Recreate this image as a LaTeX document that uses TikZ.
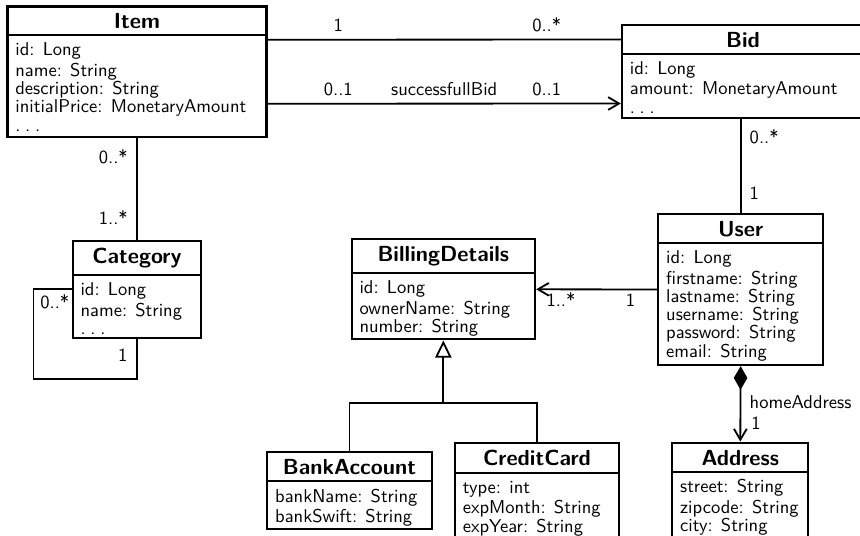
\documentclass[tikz,border=0pt]{standalone}
\usetikzlibrary{arrows.meta,fit,calc}
\renewcommand\familydefault{\sfdefault}

% one UML class: name, x1, y1 (top), x2, y of divider, y2 (bottom), title, attributes
\newcommand\umlclass[8]{%
  \coordinate (#1-nw) at (#2,#3);
  \coordinate (#1-se) at (#4,#6);
  \node[classbox, fit=(#1-nw)(#1-se)] (#1) {};
  \draw[divider] (#2,#5) -- (#4,#5);
  \node[classtitle] (#1-title) at ({(#2+#4)/2},{#3+22.3}) {#7};
  \node[classattrs] (#1-attrs) at ({#2+7.5},{#5+7.5}) {\strut#8};
}
% spaced ellipsis for elided attributes
\newcommand\moreattrs{.\kern2.6pt.\kern2.6pt.}

\begin{document}
\begin{tikzpicture}[x=0.55pt,y=-0.55pt,
  font=\sffamily\fontsize{10.2}{10.06}\selectfont,
  classbox/.style={draw, line width=1.25pt, inner sep=0pt},
  divider/.style={line width=1.25pt},
  classtitle/.style={anchor=base, inner sep=0pt,
    font=\sffamily\bfseries\fontsize{12}{12}\selectfont},
  classattrs/.style={anchor=north west, inner sep=0pt, align=left},
  assoc/.style={line width=1pt},
  mult/.style={inner sep=0pt, text depth=0pt},
  barb/.style={-{Straight Barb[length=6pt,width=7pt]}},
]
\useasboundingbox (0,0) rectangle (860,536);
\clip (0,0) rectangle (860,536);

\umlclass{item}{7.5}{6.5}{266.5}{35}{137}{Item}%
  {id: Long\\name: String\\description: String\\initialPrice: MonetaryAmount\\\moreattrs}
\umlclass{bid}{622}{25}{864}{54}{118}{Bid}%
  {id: Long\\amount: MonetaryAmount\\\moreattrs}
\umlclass{category}{72.7}{240.7}{201}{275}{338}{Category}%
  {id: Long\\name: String\\\moreattrs}
\umlclass{bd}{351.7}{239.3}{535}{272.7}{339.3}{BillingDetails}%
  {id: Long\\ownerName: String\\number: String}
\umlclass{user}{658.3}{214}{823}{242.7}{365}{User}%
  {id: Long\\firstname: String\\lastname: String\\username: String\\password: String\\email: String}
\umlclass{bankaccount}{267.3}{451.7}{431.7}{481}{529}{BankAccount}%
  {bankName: String\\bankSwift: String}
\umlclass{creditcard}{455}{442.7}{619}{472.7}{540}{CreditCard}%
  {type: int\\expMonth: String\\expYear: String}
\umlclass{address}{672.3}{442.7}{808.3}{471.7}{540}{Address}%
  {street: String\\zipcode: String\\city: String}

% Item -- Bid
\draw[assoc] ($(item.east)+(0,-32)$)
  -- node[mult, pos=.2, above=4pt] (m-ib1) {1}
     node[mult, pos=.79, above=4pt] (m-ib2) {0..*}
  ($(bid.west)+(0,-32)$);
% Item -> Bid (successfullBid)
\draw[assoc, barb] ($(item.east)+(0,32)$)
  -- node[mult, pos=.2, above=4pt] (m-sb1) {0..1}
     node[mult, pos=.5, above=4pt] (m-sb) {successfullBid}
     node[mult, pos=.79, above=4pt] (m-sb2) {0..1}
  ($(bid.west)+(0,32)$);

% Bid -- User
\draw[assoc] (bid.south -| user.north)
  -- node[mult, pos=.26, anchor=base west, xshift=4.5pt] (m-bu1) {0..*}
     node[mult, pos=.854, anchor=base west, xshift=4.5pt] (m-bu2) {1}
  (user.north);

% Item -- Category
\draw[assoc] (item.south)
  -- node[mult, pos=.25, anchor=base east, xshift=-4.6pt] (m-ic1) {0..*}
     node[mult, pos=.85, anchor=base east, xshift=-4.6pt] (m-ic2) {1..*}
  (item.south |- category.north);

% Category self association
\draw[assoc] (category.west) -- ++(-38,0) |- ($(category.south)+(0,40)$) -- (category.south);
\node[mult, anchor=base east] (m-cc1) at ($(category.west)+(-2,19)$) {0..*};
\node[mult, anchor=base east] (m-cc2) at ($(category.south)+(-9,22)$) {1};

% User -> BillingDetails
\draw[assoc, barb] (user.west) -- (bd.east);
\node[mult, anchor=base west] (m-ub1) at ($(bd.east)+(10,17.2)$) {1..*};
\node[mult, anchor=base east] (m-ub2) at ($(user.west)+(-21.6,17.2)$) {1};

% BillingDetails generalization
\coordinate (gen) at ($(bd.south)+(0,62.4)$);
\draw[assoc, -{Triangle[open,length=9.5pt,width=9pt]}] (gen) -- (bd.south);
\draw[assoc] (bankaccount.north) |- (gen) -| (creditcard.north);

% User composition Address
\draw[assoc, {Diamond[length=13pt,width=7.5pt]}-{Straight Barb[length=6pt,width=7pt]}]
  (user.south)
  -- node[mult, pos=.557, anchor=base west, xshift=4.6pt] (m-ha) {homeAddress}
     node[mult, pos=.846, anchor=base west, xshift=5.5pt] (m-ha1) {1}
  (address.north);
\end{tikzpicture}
\end{document}
